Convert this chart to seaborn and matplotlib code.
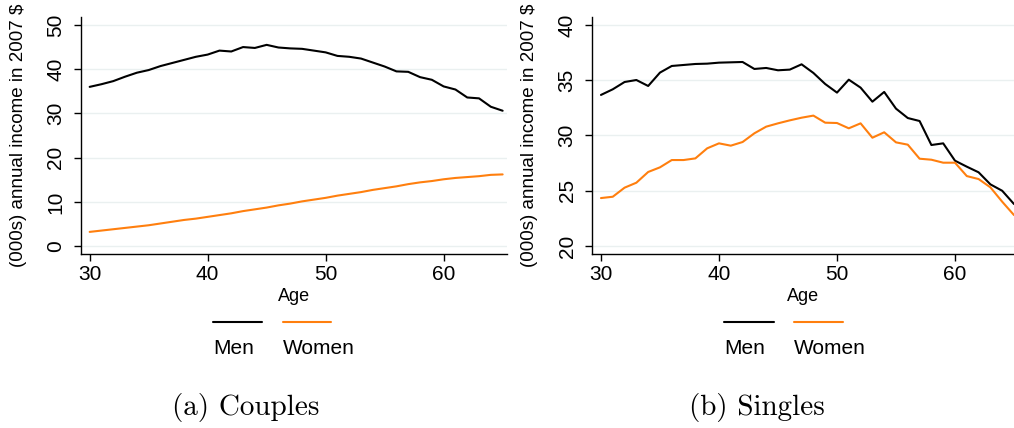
import numpy as np
import pandas as pd
import seaborn as sns
import matplotlib
matplotlib.use("Agg")
import matplotlib.pyplot as plt
from matplotlib.lines import Line2D

ages = list(range(30, 66))
couples_men = [36.0, 36.6, 37.3, 38.3, 39.2, 39.8, 40.7, 41.4, 42.1, 42.8, 43.3, 44.2,
               44.0, 45.0, 44.8, 45.5, 44.9, 44.7, 44.6, 44.2, 43.8, 43.0, 42.8, 42.4,
               41.5, 40.6, 39.5, 39.4, 38.2, 37.6, 36.1, 35.4, 33.6, 33.4, 31.5, 30.6]
couples_women = [3.2, 3.5, 3.8, 4.1, 4.4, 4.7, 5.1, 5.5, 5.9, 6.2, 6.6, 7.0,
                 7.4, 7.9, 8.3, 8.7, 9.2, 9.6, 10.1, 10.5, 10.9, 11.4, 11.8, 12.2,
                 12.7, 13.1, 13.5, 14.0, 14.4, 14.7, 15.1, 15.4, 15.6, 15.8, 16.1, 16.2]
singles_men = [33.67, 34.18, 34.84, 35.02, 34.48, 35.69, 36.29, 36.38, 36.47, 36.50, 36.59, 36.62,
               36.65, 36.02, 36.11, 35.90, 35.96, 36.44, 35.66, 34.66, 33.88, 35.05, 34.33, 33.06,
               33.94, 32.43, 31.58, 31.31, 29.14, 29.29, 27.72, 27.18, 26.67, 25.58, 25.00, 23.80]
singles_women = [24.34, 24.46, 25.28, 25.73, 26.70, 27.12, 27.78, 27.78, 27.93, 28.84, 29.29, 29.08,
                 29.41, 30.20, 30.80, 31.10, 31.37, 31.61, 31.80, 31.16, 31.13, 30.65, 31.10, 29.80,
                 30.29, 29.38, 29.17, 27.90, 27.81, 27.54, 27.54, 26.33, 26.06, 25.31, 24.01, 22.80]

series_labels = ["Men", "Women"]
panel_titles = ["(a) Couples", "(b) Singles"]
y_label = "(000s) annual income in 2007 $"
x_label = "Age"

sns.set_theme(style="white")
plt.rcParams['font.family'] = ['Liberation Sans', 'DejaVu Sans']
plt.rcParams['text.color'] = 'black'
plt.rcParams['axes.labelcolor'] = 'black'
plt.rcParams['xtick.color'] = 'black'
plt.rcParams['ytick.color'] = 'black'

colors = {"Men": "#000000", "Women": "#FF7F0E"}
grid_color = "#EAF0F0"

fig = plt.figure(figsize=(10.14, 4.28), dpi=100)
axL = fig.add_axes([80.7/1014, 1-254/428, (507-80.7)/1014, (254-17)/428])
axR = fig.add_axes([592/1014, 1-254/428, (1014-592)/1014, (254-17)/428])

def make_df(men, women):
    return pd.DataFrame({
        "age": ages * 2,
        "income": men + women,
        "sex": ["Men"] * len(ages) + ["Women"] * len(ages),
    })

panels = [
    (axL, make_df(couples_men, couples_women), (-1.8, 51.8), np.arange(0, 51, 10), (29.24, 65.37)),
    (axR, make_df(singles_men, singles_women), (19.28, 40.72), np.arange(20, 41, 5), (29.24, 65.0)),
]

for ax, df, ylim, yticks, xlim in panels:
    sns.lineplot(data=df, x="age", y="income", hue="sex", palette=colors,
                 ax=ax, linewidth=1.5, legend=False)
    ax.set_ylim(*ylim)
    ax.set_xlim(*xlim)
    ax.set_yticks(yticks)
    ax.set_xticks([30, 40, 50, 60])
    for yt in yticks:
        ax.axhline(yt, color=grid_color, linewidth=1.0, zorder=0)
    ax.set_xlabel(x_label, fontsize=13, labelpad=3)
    ax.set_ylabel(y_label, fontsize=13.5, labelpad=14)
    ax.tick_params(axis='both', which='both', direction='out', length=5, width=1,
                   color='black', labelsize=15, left=True, bottom=True)
    ax.tick_params(axis='y', pad=6)
    ax.tick_params(axis='x', pad=3)
    for lab in ax.get_yticklabels():
        lab.set_rotation(90)
        lab.set_va('center')
    for side in ["top", "right"]:
        ax.spines[side].set_visible(False)
    for side in ["left", "bottom"]:
        ax.spines[side].set_color("black")
        ax.spines[side].set_linewidth(1.0)

# Stata-style legends: keys above labels
legend_specs = [
    (213, 262, 283, 331),
    (724, 774, 794, 843),
]
for (m0, m1, w0, w1) in legend_specs:
    yk = 1 - 322/428
    fig.add_artist(Line2D([m0/1014, m1/1014], [yk, yk], color=colors["Men"], lw=1.5,
                          transform=fig.transFigure))
    fig.add_artist(Line2D([w0/1014, w1/1014], [yk, yk], color=colors["Women"], lw=1.5,
                          transform=fig.transFigure))
    fig.text(m0/1014, 1-348/428, series_labels[0], fontsize=15, ha='left', va='center')
    fig.text(w0/1014, 1-348/428, series_labels[1], fontsize=15, ha='left', va='center')

fig.text(246/1014, 1-408/428, panel_titles[0], fontsize=21, family=['cmr10', 'DejaVu Serif'],
         ha='center', va='center')
fig.text(757/1014, 1-408/428, panel_titles[1], fontsize=21, family=['cmr10', 'DejaVu Serif'],
         ha='center', va='center')

fig.savefig("out.png", dpi=100)
